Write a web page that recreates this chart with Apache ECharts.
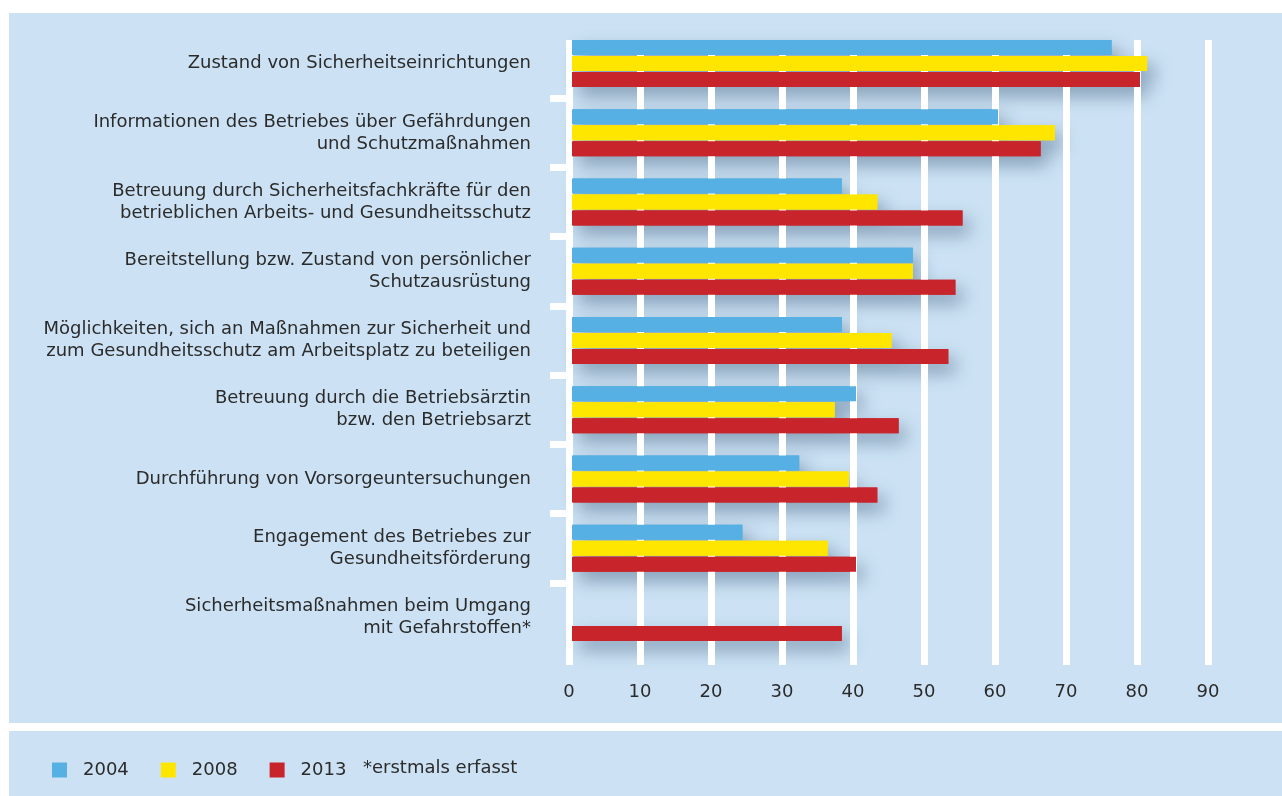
<!DOCTYPE html>
<html>
<head>
<meta charset="utf-8">
<script src="https://cdn.jsdelivr.net/npm/echarts@6/dist/echarts.min.js"></script>
<style>
  html, body { margin: 0; padding: 0; background: #ffffff; }
  #chart { width: 1282px; height: 796px; }
</style>
</head>
<body>
<div id="chart"></div>
<script>
const categories = [
  'Zustand von Sicherheitseinrichtungen',
  'Informationen des Betriebes über Gefährdungen\nund Schutzmaßnahmen',
  'Betreuung durch Sicherheitsfachkräfte für den\nbetrieblichen Arbeits- und Gesundheitsschutz',
  'Bereitstellung bzw. Zustand von persönlicher\nSchutzausrüstung',
  'Möglichkeiten, sich an Maßnahmen zur Sicherheit und\nzum Gesundheitsschutz am Arbeitsplatz zu beteiligen',
  'Betreuung durch die Betriebsärztin\nbzw. den Betriebsarzt',
  'Durchführung von Vorsorgeuntersuchungen',
  'Engagement des Betriebes zur\nGesundheitsförderung',
  'Sicherheitsmaßnahmen beim Umgang\nmit Gefahrstoffen*'
];
const values2004 = [76, 60, 38, 48, 38, 40, 32, 24, null];
const values2008 = [81, 68, 43, 48, 45, 37, 39, 36, null];
const values2013 = [80, 66, 55, 54, 53, 46, 43, 40, 38];
const seriesNames = ['2004', '2008', '2013'];
const xTicks = { min: 0, max: 90, interval: 10 };
const footnote = '*erstmals erfasst';

const colors = ['#56b0e3', '#ffe600', '#c8242b'];
const FONT = 'DejaVu Sans';
const TXT = '#2b2b2b';
const allValues = [values2004, values2008, values2013];

const gridA = { left: 572, right: 71, top: 29, height: 623 };

const barSeries = allValues.map((vals, i) => ({
  name: seriesNames[i],
  type: 'bar',
  xAxisIndex: 0,
  yAxisIndex: 0,
  data: vals,
  barWidth: 15,
  barGap: '6.7%',
  z: 3,
  silent: true,
  itemStyle: { color: colors[i] }
}));

const shadowSeries = allValues.map((vals, i) => ({
  name: 'shadow' + seriesNames[i],
  type: 'bar',
  xAxisIndex: 2,
  yAxisIndex: 3,
  data: vals,
  barWidth: 15,
  barGap: '6.7%',
  z: 1,
  silent: true,
  itemStyle: {
    color: colors[i],
    shadowBlur: 18,
    shadowOffsetX: 7,
    shadowOffsetY: 9,
    shadowColor: 'rgba(40,70,105,0.45)'
  }
}));

const chart = echarts.init(document.getElementById('chart'), null, { renderer: 'canvas' });
chart.setOption({
  animation: false,
  backgroundColor: '#cce2f4',
  textStyle: { fontFamily: FONT },
  graphic: [
    { type: 'rect', shape: { x: 0, y: 0, width: 1282, height: 13 }, style: { fill: '#ffffff' }, z: 100, silent: true },
    { type: 'rect', shape: { x: 0, y: 0, width: 9, height: 796 }, style: { fill: '#ffffff' }, z: 100, silent: true },
    { type: 'rect', shape: { x: 0, y: 723, width: 1282, height: 8 }, style: { fill: '#ffffff' }, z: 100, silent: true },
    { type: 'text', left: 363, top: 759, z: 100, silent: true,
      style: { text: footnote, font: '18px "DejaVu Sans"', fill: TXT } }
  ],
  legend: {
    data: seriesNames,
    left: 47,
    top: 756,
    icon: 'rect',
    itemWidth: 15,
    itemHeight: 15,
    itemGap: 32,
    selectedMode: false,
    textStyle: { fontFamily: FONT, fontSize: 18, color: TXT, padding: [0, 0, 0, 11] }
  },
  grid: [
    Object.assign({ outerBoundsMode: 'none' }, gridA),
    { left: 569, right: 74, top: 40, bottom: 131, outerBoundsMode: 'none' },
    Object.assign({ outerBoundsMode: 'none' }, gridA)
  ],
  xAxis: [
    { type: 'value', gridIndex: 0, min: xTicks.min, max: xTicks.max, show: false },
    {
      type: 'value', gridIndex: 1, min: xTicks.min, max: xTicks.max, interval: xTicks.interval,
      z: 2,
      axisLine: { show: false },
      axisTick: { show: false },
      splitLine: { show: true, lineStyle: { color: '#ffffff', width: 7 } },
      axisLabel: { show: true, margin: 18, fontFamily: FONT, fontSize: 18, color: TXT }
    },
    { type: 'value', gridIndex: 2, min: xTicks.min, max: xTicks.max, show: false }
  ],
  yAxis: [
    {
      type: 'category', gridIndex: 0, inverse: true, data: categories,
      axisLine: { show: false },
      axisTick: { show: false },
      splitLine: { show: false },
      axisLabel: {
        interval: 0, margin: 41, fontFamily: FONT, fontSize: 18, lineHeight: 22,
        color: TXT, align: 'right'
      }
    },
    {
      type: 'value', gridIndex: 0, position: 'left', min: 0, max: categories.length,
      interval: categories.length, inverse: true,
      axisLine: { show: false },
      axisTick: { show: false },
      axisLabel: { show: false },
      splitLine: { show: false },
      minorTick: { show: true, splitNumber: categories.length, length: 22, lineStyle: { color: '#ffffff', width: 7 } },
      minorSplitLine: { show: false }
    },
    { type: 'value', gridIndex: 1, min: 0, max: 1, show: false },
    { type: 'category', gridIndex: 2, inverse: true, data: categories, show: false }
  ],
  series: shadowSeries.concat(barSeries)
});
</script>
</body>
</html>
